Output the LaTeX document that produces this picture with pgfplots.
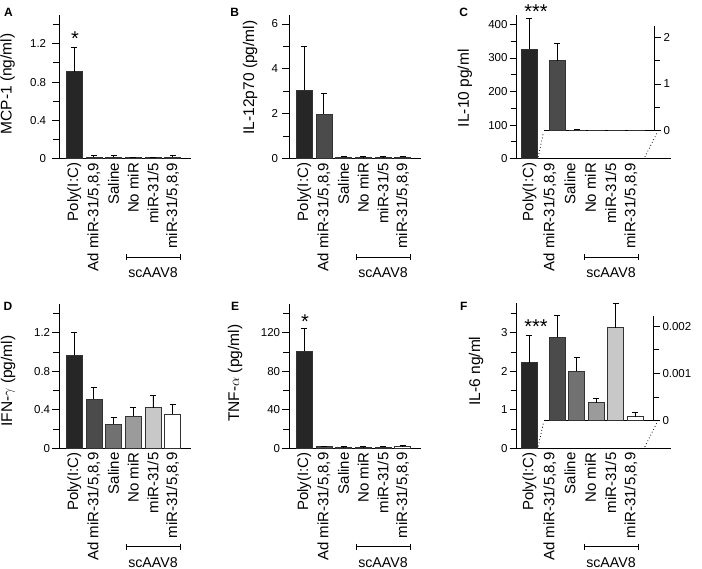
\documentclass[border=0pt]{standalone}
\usepackage{fontspec}
\setmainfont{Liberation Sans}
\usepackage{pgfplots}
\pgfplotsset{compat=1.18}

\definecolor{c1}{HTML}{262626}
\definecolor{c2}{HTML}{4B4B4B}
\definecolor{c3}{HTML}{717171}
\definecolor{c4}{HTML}{9B9B9B}
\definecolor{c5}{HTML}{C8C8C8}
\definecolor{c6}{HTML}{FFFFFF}

\pgfplotsset{
  ticks common/.style={
    scale only axis, anchor=south west, clip=false,
    axis line style={-, line width=0.9pt},
    ytick align=outside,
    major tick length=7pt, minor tick length=6pt,
    y tick style={line width=0.9pt, black},
    yticklabel style={font=\fontsize{11.5}{12}\selectfont, inner sep=2pt},
    /pgf/number format/assume math mode=true,
    scaled y ticks=false,
  },
  base/.style={
    ticks common,
    axis x line*=bottom, axis y line*=left,
    xtick={1,...,6},
    xticklabels={Poly(I:C), {Ad miR-31/5,8,9}, Saline, No miR, miR-31/5, {miR-31/5,8,9}},
    major x tick style={draw=none},
    xticklabel style={font=\fontsize{15}{15}\selectfont, yshift=-4pt, rotate=90, anchor=east, inner sep=0pt},
    ylabel style={font=\fontsize{15.5}{15.5}\selectfont, anchor=center},
  },
  inset/.style={
    ticks common,
    axis x line*=bottom, axis y line*=right,
    xtick=\empty, xmin=1.325, xmax=6.925, ymin=0,
  },
  bar/.style={ybar, bar width=16pt, fill=#1, draw=black!80, line width=0.5pt,
    error bars/y dir=plus, error bars/y explicit,
    error bars/error bar style={line width=0.9pt, black},
    error bars/error mark options={rotate=90, line width=0.9pt, mark size=3pt, black}},
}

\begin{document}
\begin{tikzpicture}
\useasboundingbox (0pt,0pt) rectangle (702pt,-569pt);

% ---------- A
\begin{axis}[base, at={(59.3pt,-158.7pt)}, width=131.4pt, height=143.7pt,
  xmin=0.244, xmax=6.914, ymin=0, ymax=1.5,
  ytick={0,0.4,0.8,1.2}, yticklabels={0,0.4,0.8,1.2}, minor ytick={0.2,0.6,1.0,1.4},
  yticklabel style={xshift=-4pt},
  ylabel={MCP-1 (ng/ml)}, ylabel style={at={(axis description cs:-0.394,0.52)}}]
\addplot[bar=c1] coordinates {(1,0.91) +- (0,0.25)};
\addplot[bar=c2] coordinates {(2,0.02) +- (0,0.01)};
\addplot[bar=c3] coordinates {(3,0.02) +- (0,0.01)};
\addplot[bar=c4] coordinates {(4,0.01) +- (0,0.005)};
\addplot[bar=c5] coordinates {(5,0.01) +- (0,0.005)};
\addplot[bar=c6] coordinates {(6,0.02) +- (0,0.015)};
\end{axis}

% ---------- B
\begin{axis}[base, at={(289.3pt,-158.7pt)}, width=131.4pt, height=143.7pt,
  xmin=0.244, xmax=6.914, ymin=0, ymax=6.4,
  ytick={0,2,4,6}, minor ytick={1,3,5},
  yticklabel style={xshift=-2pt},
  ylabel={IL-12p70 (pg/ml)}, ylabel style={at={(axis description cs:-0.299,0.565)}}]
\addplot[bar=c1] coordinates {(1,3.04) +- (0,1.94)};
\addplot[bar=c2] coordinates {(2,2.0) +- (0,0.92)};
\addplot[bar=c3] coordinates {(3,0.08) +- (0,0.03)};
\addplot[bar=c4] coordinates {(4,0.06) +- (0,0.02)};
\addplot[bar=c5] coordinates {(5,0.06) +- (0,0.02)};
\addplot[bar=c6] coordinates {(6,0.07) +- (0,0.03)};
\end{axis}

% ---------- C
\begin{axis}[base, at={(516.7pt,-158.7pt)}, width=154pt, height=143.7pt,
  xmin=0.37, xmax=7.956, ymin=0, ymax=428,
  ytick={0,100,200,300,400}, minor ytick={50,150,250,350},
  ylabel={IL-10 pg/ml}, ylabel style={at={(axis description cs:-0.336,0.49)}}]
\addplot[bar=c1] coordinates {(1,327) +- (0,91)};
\end{axis}
\begin{axis}[inset, at={(544pt,-130.7pt)}, width=110.3pt, height=104.7pt,
  ymax=2.24, ytick={0,1,2}, minor ytick={0.5,1.5}]
\addplot[bar=c2] coordinates {(2,1.5) +- (0,0.36)};
\addplot[bar=c3] coordinates {(3,0.02) +- (0,0.01)};
\addplot[bar=c4] coordinates {(4,0.005)};
\addplot[bar=c5] coordinates {(5,0.005)};
\addplot[bar=c6] coordinates {(6,0.005)};
\end{axis}

% ---------- D
\begin{axis}[base, at={(59.3pt,-448.3pt)}, width=131.4pt, height=144.3pt,
  xmin=0.244, xmax=6.914, ymin=0, ymax=1.5,
  ytick={0,0.4,0.8,1.2}, yticklabels={0,0.4,0.8,1.2}, minor ytick={0.2,0.6,1.0,1.4},
  ylabel={IFN-$\gamma$ (pg/ml)}, ylabel style={at={(axis description cs:-0.39,0.466)}}]
\addplot[bar=c1] coordinates {(1,0.967) +- (0,0.24)};
\addplot[bar=c2] coordinates {(2,0.515) +- (0,0.122)};
\addplot[bar=c3] coordinates {(3,0.254) +- (0,0.07)};
\addplot[bar=c4] coordinates {(4,0.337) +- (0,0.087)};
\addplot[bar=c5] coordinates {(5,0.424) +- (0,0.122)};
\addplot[bar=c6] coordinates {(6,0.355) +- (0,0.104)};
\end{axis}

% ---------- E
\begin{axis}[base, at={(289.3pt,-448.3pt)}, width=131.4pt, height=144.3pt,
  xmin=0.244, xmax=6.914, ymin=0, ymax=150,
  ytick={0,40,80,120}, minor ytick={20,60,100,140},
  ylabel={TNF-$\alpha$ (pg/ml)}, ylabel style={at={(axis description cs:-0.413,0.52)}}]
\addplot[bar=c1] coordinates {(1,100.9) +- (0,23.4)};
\addplot[bar=c2] coordinates {(2,1.8) +- (0,0.6)};
\addplot[bar=c3] coordinates {(3,1.2) +- (0,0.5)};
\addplot[bar=c4] coordinates {(4,1.0) +- (0,0.5)};
\addplot[bar=c5] coordinates {(5,1.5) +- (0,0.5)};
\addplot[bar=c6] coordinates {(6,2.0) +- (0,0.8)};
\end{axis}

% ---------- F
\begin{axis}[base, at={(516.7pt,-448.3pt)}, width=154pt, height=145pt,
  xmin=0.37, xmax=7.956, ymin=0, ymax=3.77,
  ytick={0,1,2,3}, minor ytick={0.5,1.5,2.5,3.5},
  ylabel={IL-6 ng/ml}, ylabel style={at={(axis description cs:-0.264,0.533)}}]
\addplot[bar=c1] coordinates {(1,2.23) +- (0,0.71)};
\end{axis}
\begin{axis}[inset, at={(544pt,-420.7pt)}, width=109.3pt, height=105pt,
  ymax=0.00222, ytick={0,0.001,0.002}, yticklabels={0,0.001,0.002},
  minor ytick={0.0005,0.0015}]
\addplot[bar=c2] coordinates {(2,0.00176) +- (0,0.00046)};
\addplot[bar=c3] coordinates {(3,0.00105) +- (0,0.00028)};
\addplot[bar=c4] coordinates {(4,0.00038) +- (0,0.00009)};
\addplot[bar=c5] coordinates {(5,0.00197) +- (0,0.00051)};
\addplot[bar=c6] coordinates {(6,0.000085) +- (0,0.000085)};
\end{axis}

% ---------- zoom guides
\tikzset{guide/.style={black, line width=1.1pt, dash pattern=on 0pt off 3.2pt, line cap=round}}
\draw[guide] (538.3pt,-156.7pt) -- (543.3pt,-133.3pt);
\draw[guide] (645pt,-156.7pt) -- (657.5pt,-132pt);
\draw[guide] (538.3pt,-446pt) -- (543.3pt,-423.5pt);
\draw[guide] (645pt,-446.5pt) -- (656.5pt,-423.5pt);

% ---------- scAAV8 brackets
\tikzset{brk/.style={line width=0.9pt, black}}
\foreach \xa/\xb/\yy in {126/180/257, 356/410/257, 584/638.3/257, 126/180/546.7, 356/410/546.7, 584/638.3/546.7}{
  \draw[brk] (\xa pt,-\yy pt) -- (\xb pt,-\yy pt);
  \draw[brk] (\xa pt,-\yy pt+3pt) -- (\xa pt,-\yy pt-3pt);
  \draw[brk] (\xb pt,-\yy pt+3pt) -- (\xb pt,-\yy pt-3pt);
}
\foreach \xx/\yy in {153/272.5, 383/272.5, 611/272.5, 153/562.5, 383/562.5, 611/562.5}{
  \node[font=\fontsize{14.2}{15}\selectfont, inner sep=0pt] at (\xx pt,-\yy pt) {scAAV8};
}

% ---------- significance marks
\node[font=\fontsize{20}{20}\selectfont, anchor=base, inner sep=0pt] at (75pt,-45.5pt) {*};
\node[font=\fontsize{20}{20}\selectfont, anchor=base, inner sep=0pt] at (305pt,-328.5pt) {*};
\node[font=\fontsize{20}{20}\selectfont, anchor=base, inner sep=0pt] at (536pt,-18.5pt) {***};
\node[font=\fontsize{20}{20}\selectfont, anchor=base, inner sep=0pt] at (536pt,-334pt) {***};

% ---------- panel letters
\foreach \lab/\xx/\yy in {A/8.5/12.5, B/234.7/12.5, C/463.7/12.5, D/8/306.7, E/235/306.7, F/463.7/306.7}{
  \node[font=\fontsize{12}{12}\selectfont\bfseries, inner sep=0pt] at (\xx pt,-\yy pt) {\lab};
}
\end{tikzpicture}
\end{document}
